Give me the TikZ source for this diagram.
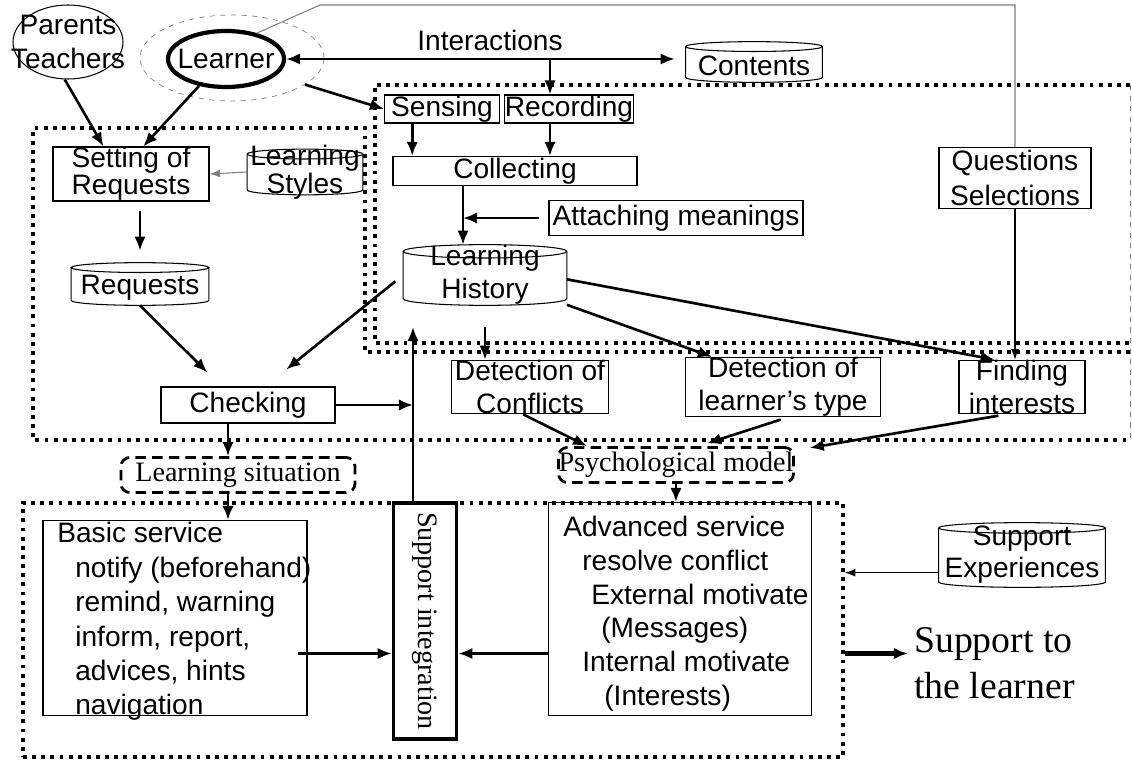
\documentclass[tikz,border=0pt]{standalone}
\usepackage{fontspec}
\setmainfont{Liberation Sans}
\newfontfamily\timesfont{Liberation Serif}
\usetikzlibrary{calc,shapes.geometric,arrows.meta}
\newdimen\pxu
\pxu=0.02cm

\begin{document}
\begin{tikzpicture}[x=0.02cm, y=-0.02cm,
    font=\fontsize{16}{19.6}\selectfont,
    box/.style={draw, rectangle, line width=0.6pt, inner sep=0pt, align=center},
    dbase/.style={rectangle, inner sep=0pt},
    state/.style={draw, line width=1.6pt, dash pattern=on 6pt off 3.5pt, rounded corners=5pt, inner sep=0pt, font=\timesfont\fontsize{16}{19}\selectfont},
    zone/.style={line width=2.2pt, dash pattern=on 2.2pt off 3pt},
    link/.style={-{Latex[length=8pt,width=6.5pt]}, line width=1.5pt},
    slim/.style={-{Latex[length=6pt,width=4.5pt]}, line width=0.6pt}]

  \useasboundingbox (0,0) rectangle (1132,763);

  % Draw the dotted zones
  \draw[zone] (1130,85) -- (375,85) -- (375,343) -- (1130,343);
  \draw[zone] (1130,352) -- (365,352) -- (365,128) -- (33,128) -- (33,440) -- (1130,440);
  \draw[gray, thin, dashed] (1130,85) -- (1130,440);
  \node[zone, draw, minimum width=820\pxu, minimum height=254\pxu] (services) at (433,630) {};

  % Learner and interactions
  \node[draw, ellipse, line width=0.6pt, minimum width=110\pxu, minimum height=74\pxu, label={[align=center]center:Parents\\Teachers}] (parents) at (68,42) {};
  \node[draw=gray, dashed, thin, ellipse, minimum width=184\pxu, minimum height=86\pxu] (learnerarea) at (232,58) {};
  \node[draw, ellipse, line width=2.4pt, minimum width=116\pxu, minimum height=56\pxu, label=center:Learner] (learner) at (226,59) {};
  \node[dbase, minimum width=136\pxu, minimum height=40\pxu, label={[yshift=-2pt]center:Contents}] (contents) at (754,62) {};
  \node (interactions) at (490,40) {Interactions};

  % Sensing side
  \node[box, minimum width=115\pxu, minimum height=28\pxu] (sensing) at (442,109) {Sensing};
  \node[box, minimum width=118\pxu, minimum height=28\pxu] (recording) at (569,109) {Recording};
  \node[box, minimum width=244\pxu, minimum height=29\pxu] (collecting) at (515,171) {Collecting};
  \node[box, minimum width=254\pxu, minimum height=35\pxu] (attaching) at (676,218) {Attaching meanings};
  \node[dbase, minimum width=163\pxu, minimum height=60\pxu, label={[align=center, font=\fontsize{16}{18.8}\selectfont]center:Learning\\History}] (history) at (485,275) {};
  \node[box, minimum width=152\pxu, minimum height=61\pxu] (questions) at (1015,178) {Questions\\Selections};

  % Requests side
  \node[box, minimum width=156\pxu, minimum height=54\pxu, font=\fontsize{16}{15.4}\selectfont] (setting) at (131,174) {Setting of\\Requests};
  \node[dbase, minimum width=115\pxu, minimum height=45\pxu, label={[align=center, font=\fontsize{16}{16}\selectfont]center:Learning\\Styles}] (styles) at (305,172) {};
  \node[dbase, minimum width=137\pxu, minimum height=42\pxu, label={[yshift=-2pt]center:Requests}] (requests) at (140,284) {};
  \node[box, minimum width=174\pxu, minimum height=36\pxu] (checking) at (248,405) {Checking};

  % Detections
  \node[box, minimum width=157\pxu, minimum height=53\pxu, font=\fontsize{16}{18.8}\selectfont] (conflicts) at (530,387) {Detection of\\Conflicts};
  \node[box, minimum width=195\pxu, minimum height=53\pxu, font=\fontsize{16}{18.8}\selectfont] (type) at (783,387) {Detection of\\learner's type};
  \node[box, minimum width=126\pxu, minimum height=53\pxu, font=\fontsize{16}{18.8}\selectfont] (finding) at (1022,387) {Finding\\interests};

  % Situation and model
  \node[state, minimum width=234\pxu, minimum height=35\pxu] (situation) at (238,475) {Learning situation};
  \node[state, minimum width=233\pxu, minimum height=35\pxu] (psych) at (676,465) {Psychological model};

  % Services
  \node[box, minimum width=264\pxu, minimum height=195\pxu] (basic) at (175,618) {};
  \node[anchor=north west, align=left, inner sep=0pt] (basictext) at (57,522) {Basic service\\
    \hspace*{0.36cm}notify (beforehand)\\
    \hspace*{0.36cm}remind, warning\\
    \hspace*{0.36cm}inform, report,\\
    \hspace*{0.36cm}advices, hints\\
    \hspace*{0.36cm}navigation};
  \node[box, line width=2.2pt, minimum width=63\pxu, minimum height=236\pxu, label={[rotate=-90, font=\timesfont\fontsize{16}{19}\selectfont]center:Support integration}] (integration) at (425,621) {};
  \node[box, minimum width=263\pxu, minimum height=213\pxu] (advanced) at (680,609) {};
  \node[anchor=north west, align=left, inner sep=0pt, font=\fontsize{16}{19.2}\selectfont] (advancedtext) at (563,516) {Advanced service\\
    \hspace*{0.38cm}resolve conflict\\
    \hspace*{0.56cm}External motivate\\
    \hspace*{0.76cm}(Messages)\\
    \hspace*{0.38cm}Internal motivate\\
    \hspace*{0.82cm}(Interests)};
  \node[dbase, minimum width=166\pxu, minimum height=64\pxu, label={[align=center, font=\fontsize{16}{18.2}\selectfont]center:Support\\Experiences}] (experiences) at (1022,555) {};
  \node[anchor=west, align=left, font=\timesfont\fontsize{21.5}{26}\selectfont] (outcome) at (908,663) {Support to\\the learner};

  % Draw the cylinders
  \foreach \db/\ry in {contents/2.8pt, history/3.8pt, styles/2.8pt, requests/2.8pt, experiences/3pt}
    \draw[line width=0.6pt] let \p1=(\db.south west), \p2=(\db.north east), \p3=(\db.north) in
      (\x1,\y2-\ry) -- (\x1,\y1+\ry) arc[start angle=180, end angle=360, x radius={\x2-\x3}, y radius=\ry]
      -- (\x2,\y2-\ry)
      (\x3,\y2-\ry) ellipse[x radius={\x2-\x3}, y radius=\ry];

  % Arrows
  \draw[gray, line width=0.6pt] (learner.40) -- (320,5) -| (questions.north);
  \draw[link, {Latex[length=8pt,width=6.5pt]}-{Latex[length=8pt,width=6.5pt]}, shorten >=11\pxu] (learner.east) -- (learner.east -| contents.west);
  \coordinate (split) at (550,59);
  \draw[link] (split) -- (split |- recording.north);
  \draw[link] (learnerarea.-20) -- (sensing.west);
  \draw[link] (sensing.-154) -- (sensing.-154 |- collecting.north);
  \draw[link] (split |- recording.south) -- (split |- collecting.north);
  \coordinate (feed) at (463,218);
  \draw[link] (feed |- collecting.south) -- (feed |- history.north);
  \draw[link, shorten <=9\pxu] (attaching.west) -- (feed);

  \draw[link] (parents.-95) -- (setting.135);
  \draw[link] (learner.-135) -- (setting.66);
  \draw[slim, gray] (styles.west) -- (setting.east);
  \draw[link, shorten <=9\pxu, shorten >=12\pxu] (setting.south -| requests.north) -- (requests.north);
  \draw[link, shorten >=20\pxu] (requests.south) -- (checking.145);
  \draw[link, shorten <=10\pxu, shorten >=27\pxu] (history.west) -- (checking.47);
  \coordinate (feedback) at (413,327);
  \draw[link] (checking.east) -- (checking.east -| feedback);
  \draw[link] (integration.north -| feedback) -- (feedback);

  \draw[link, shorten <=22\pxu] (history.south) -- (history.south |- conflicts.north);
  \draw[link] (history.-20) -- (type.157);
  \draw[link] (history.-3) -- (finding.135);
  \draw[slim] (questions.south) -- (questions.south |- finding.north);
  \draw[link] (conflicts.-104) -- (psych.168);
  \draw[link, shorten <=8\pxu, shorten >=9\pxu] (type.-80) -- (psych.40);
  \draw[link, shorten <=8\pxu, shorten >=15\pxu] (finding.-120) -- (psych.7);
  \draw[link] (psych.south) -- (psych.south |- advanced.north);
  \draw[link] ([xshift=-20\pxu]checking.south) -- ([xshift=-20\pxu]checking.south |- situation.north);
  \draw[link] ([xshift=-10\pxu]situation.south) -- ([xshift=-10\pxu]situation.south |- basic.north);

  \draw[link, shorten <=-10\pxu] (basic.-15) -- (integration.west |- basic.-15);
  \draw[link] (advanced.west |- basic.-15) -- (integration.east |- basic.-15);
  \draw[slim] (experiences.-168) -- (experiences.-168 -| services.east);
  \draw[link, line width=2.4pt] (services.east |- basic.-15) -- (outcome.west |- basic.-15);
\end{tikzpicture}
\end{document}
